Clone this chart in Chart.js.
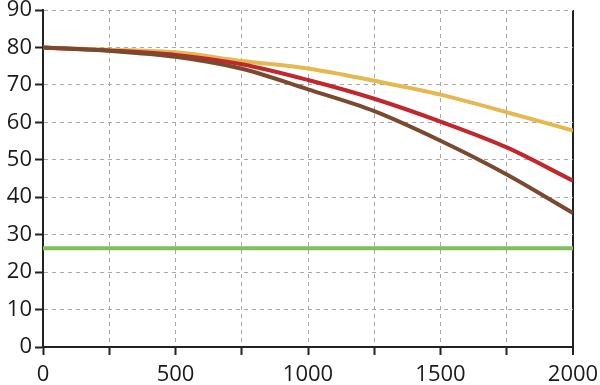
<!DOCTYPE html>
<html lang="en">
  <head>
    <meta charset="UTF-8" />
    <title>Curves</title>
    <script src="https://cdn.jsdelivr.net/npm/chart.js"></script>
    <style>
      * {
        margin: 0;
        padding: 0;
        box-sizing: border-box;
      }
      body {
        background: #ffffff;
      }
      .chart-box {
        width: 600px;
        height: 385px;
      }
    </style>
  </head>
  <body>
    <div class="chart-box">
      <canvas id="lineChart"></canvas>
    </div>

    <script>
      // values
      const xValues = [0, 250, 500, 750, 1000, 1250, 1500, 1750, 2000];
      const yellowSeries = [80, 79.4, 78.7, 76.4, 74.4, 71.1, 67.4, 62.7, 57.8];
      const redSeries = [80, 79.2, 78.0, 75.5, 71.3, 66.3, 60.2, 53.3, 44.4];
      const brownSeries = [80, 79.1, 77.5, 74.3, 68.8, 63.0, 55.1, 46.1, 35.8];
      const greenSeries = [26.4, 26.4, 26.4, 26.4, 26.4, 26.4, 26.4, 26.4, 26.4];
      const xTickLabels = [0, 500, 1000, 1500, 2000];
      const yTickLabels = [0, 10, 20, 30, 40, 50, 60, 70, 80, 90];

      const toPoints = (ys) => ys.map((y, i) => ({ x: xValues[i], y: y }));

      const lineSet = (data, color) => ({
        data: toPoints(data),
        borderColor: color,
        borderWidth: 4,
        pointRadius: 0,
        fill: false,
        cubicInterpolationMode: "monotone",
      });

      const textColor = "#1a1a1a";
      const gridColor = "#a8a8a8";

      new Chart(document.getElementById("lineChart"), {
        type: "line",
        data: {
          datasets: [
            lineSet(greenSeries, "#80bf5a"),
            lineSet(brownSeries, "#7a4a2f"),
            lineSet(redSeries, "#c1272d"),
            lineSet(yellowSeries, "#e4b94f"),
          ],
        },
        options: {
          responsive: true,
          maintainAspectRatio: false,
          animation: false,
          layout: { padding: { top: 10, right: 27, left: 0, bottom: 0 } },
          plugins: {
            legend: { display: false },
            tooltip: { enabled: false },
          },
          scales: {
            x: {
              type: "linear",
              min: 0,
              max: 2000,
              afterFit: (s) => {
                s.height = 38;
                s.paddingLeft = 0;
                s.paddingRight = 0;
              },
              afterBuildTicks: (s) => {
                s.ticks = xValues.map((v) => ({ value: v }));
              },
              ticks: {
                color: textColor,
                font: { family: "Open Sans", size: 22 },
                padding: 7,
                maxRotation: 0,
                autoSkip: false,
                callback: (v) => (xTickLabels.includes(v) ? String(v) : ""),
              },
              grid: {
                color: (c) => (c.index === xValues.length - 1 ? "#222222" : gridColor),
                lineWidth: (c) => (c.index === xValues.length - 1 ? 2 : 1),
                tickColor: "#222222",
                tickWidth: 2,
                tickLength: 8,
              },
              border: {
                display: true,
                color: "#222222",
                width: 2,
                dash: (c) => (c.index === xValues.length - 1 ? [] : [4, 4]),
              },
            },
            y: {
              min: 0,
              max: 90,
              afterFit: (s) => {
                s.width = 43;
                s.paddingTop = 0;
                s.paddingBottom = 0;
              },
              afterBuildTicks: (s) => {
                s.ticks = yTickLabels.map((v) => ({ value: v }));
              },
              ticks: {
                color: textColor,
                font: { family: "Open Sans", size: 22 },
                padding: 3,
              },
              grid: {
                color: gridColor,
                lineWidth: 1,
                tickColor: "#222222",
                tickWidth: 2,
                tickLength: 8,
              },
              border: {
                display: true,
                color: "#222222",
                width: 2,
                dash: [4, 4],
              },
            },
          },
        },
      });
    </script>
  </body>
</html>
